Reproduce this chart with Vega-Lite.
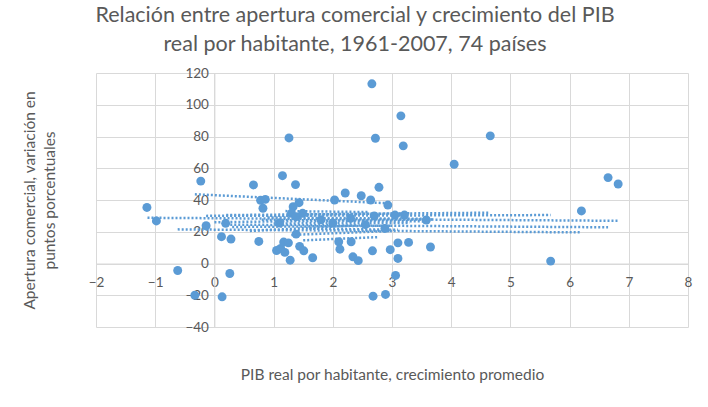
{
  "$schema": "https://vega.github.io/schema/vega-lite/v6.json",
  "autosize": {"type": "none"},
  "width": 592,
  "height": 254,
  "padding": {"left": 96, "top": 73, "right": 20, "bottom": 80},
  "background": "white",
  "config": {
    "view": {"stroke": null},
    "font": "Lato",
    "axis": {
      "grid": true,
      "gridColor": "#d9d9d9",
      "gridWidth": 1,
      "domainColor": "#d9d9d9",
      "domainWidth": 1,
      "ticks": false,
      "labelColor": "#595959",
      "labelFontSize": 13.5,
      "labelFont": "Lato",
      "labelOverlap": false,
      "labelBound": false,
      "labelFlush": false,
      "format": "d",
      "titleColor": "#595959",
      "titleFont": "Lato",
      "titleFontSize": 15.5,
      "titleFontWeight": "normal"
    }
  },
  "title": {
    "text": ["Relación entre apertura comercial y crecimiento del PIB", "real por habitante, 1961-2007, 74 países"],
    "anchor": "middle",
    "frame": "group",
    "dx": -37,
    "offset": 11,
    "fontSize": 21.5,
    "lineHeight": 29,
    "font": "Lato",
    "fontWeight": "normal",
    "color": "#595959"
  },
  "datasets": {
    "tendencias": [
      {"x1": -0.33, "y1": 43.6, "x2": 2.9, "y2": 38.0},
      {"x1": -1.13, "y1": 28.8, "x2": 6.82, "y2": 26.9},
      {"x1": -0.62, "y1": 21.5, "x2": 6.2, "y2": 19.6},
      {"x1": 0.2, "y1": 24.5, "x2": 6.65, "y2": 22.8},
      {"x1": -0.14, "y1": 30.0, "x2": 5.68, "y2": 30.5},
      {"x1": 0.2, "y1": 30.5, "x2": 4.66, "y2": 32.0},
      {"x1": 0.8, "y1": 27.5, "x2": 3.6, "y2": 26.5},
      {"x1": 1.0, "y1": 25.2, "x2": 3.3, "y2": 25.6},
      {"x1": 1.3, "y1": 30.8, "x2": 3.3, "y2": 31.6},
      {"x1": 0.3, "y1": 23.0, "x2": 3.0, "y2": 23.8},
      {"x1": 1.5, "y1": 14.6, "x2": 2.75, "y2": 16.6},
      {"x1": 1.3, "y1": 18.0, "x2": 3.0, "y2": 20.5},
      {"x1": 0.9, "y1": 29.0, "x2": 3.5, "y2": 28.2},
      {"x1": 1.6, "y1": 22.0, "x2": 3.1, "y2": 21.2},
      {"x1": 0.0, "y1": 26.0, "x2": 3.7, "y2": 27.8},
      {"x1": 1.2, "y1": 33.0, "x2": 2.6, "y2": 32.4},
      {"x1": 0.6, "y1": 20.5, "x2": 2.4, "y2": 24.0}
    ],
    "paises": [
      {"pib": -1.14, "apertura": 35.3},
      {"pib": -0.98, "apertura": 26.8},
      {"pib": -0.23, "apertura": 51.9},
      {"pib": -0.14, "apertura": 23.8},
      {"pib": -0.62, "apertura": -4.4},
      {"pib": -0.33, "apertura": -20.0},
      {"pib": 0.13, "apertura": -21.0},
      {"pib": 0.12, "apertura": 16.9},
      {"pib": 0.28, "apertura": 15.4},
      {"pib": 0.26, "apertura": -6.3},
      {"pib": 0.19, "apertura": 25.3},
      {"pib": 0.66, "apertura": 49.5},
      {"pib": 0.75, "apertura": 13.9},
      {"pib": 0.78, "apertura": 39.8},
      {"pib": 0.86, "apertura": 40.4},
      {"pib": 0.82, "apertura": 34.8},
      {"pib": 1.15, "apertura": 55.3},
      {"pib": 1.26, "apertura": 79.1},
      {"pib": 1.37, "apertura": 49.7},
      {"pib": 1.43, "apertura": 38.3},
      {"pib": 1.33, "apertura": 35.8},
      {"pib": 1.30, "apertura": 31.6},
      {"pib": 2.03, "apertura": 40.0},
      {"pib": 2.21, "apertura": 44.4},
      {"pib": 2.48, "apertura": 42.7},
      {"pib": 2.64, "apertura": 40.0},
      {"pib": 2.78, "apertura": 48.0},
      {"pib": 2.93, "apertura": 36.8},
      {"pib": 3.21, "apertura": 30.5},
      {"pib": 3.58, "apertura": 27.4},
      {"pib": 1.38, "apertura": 18.5},
      {"pib": 1.05, "apertura": 8.2},
      {"pib": 1.12, "apertura": 9.5},
      {"pib": 1.19, "apertura": 7.0},
      {"pib": 1.17, "apertura": 13.5},
      {"pib": 1.25, "apertura": 13.0},
      {"pib": 1.28, "apertura": 2.1},
      {"pib": 1.44, "apertura": 10.8},
      {"pib": 1.51, "apertura": 8.0},
      {"pib": 1.66, "apertura": 3.6},
      {"pib": 2.10, "apertura": 13.7},
      {"pib": 2.12, "apertura": 9.0},
      {"pib": 2.31, "apertura": 13.7},
      {"pib": 2.34, "apertura": 4.2},
      {"pib": 2.43, "apertura": 1.8},
      {"pib": 2.67, "apertura": 8.0},
      {"pib": 2.97, "apertura": 8.7},
      {"pib": 3.10, "apertura": 13.0},
      {"pib": 3.28, "apertura": 13.3},
      {"pib": 3.10, "apertura": 3.2},
      {"pib": 3.06, "apertura": -7.5},
      {"pib": 3.65, "apertura": 10.4},
      {"pib": 2.68, "apertura": -20.6},
      {"pib": 2.89, "apertura": -19.5},
      {"pib": 2.66, "apertura": 113.2},
      {"pib": 2.72, "apertura": 78.9},
      {"pib": 3.15, "apertura": 93.0},
      {"pib": 3.19, "apertura": 74.1},
      {"pib": 4.05, "apertura": 62.5},
      {"pib": 4.66, "apertura": 80.4},
      {"pib": 6.65, "apertura": 54.1},
      {"pib": 6.82, "apertura": 50.1},
      {"pib": 6.20, "apertura": 33.1},
      {"pib": 5.68, "apertura": 1.5},
      {"pib": 2.88, "apertura": 22.1},
      {"pib": 3.05, "apertura": 30.5},
      {"pib": 1.38, "apertura": 29.5},
      {"pib": 1.49, "apertura": 31.6},
      {"pib": 1.80, "apertura": 27.5},
      {"pib": 2.00, "apertura": 25.5},
      {"pib": 2.30, "apertura": 28.5},
      {"pib": 2.55, "apertura": 24.5},
      {"pib": 2.70, "apertura": 30.0},
      {"pib": 1.10, "apertura": 25.5}
    ]
  },
  "layer": [
    {
      "data": {"name": "tendencias"},
      "mark": {"type": "rule", "color": "#5b9bd5", "strokeWidth": 2.5, "strokeDash": [2, 2], "strokeCap": "butt"},
      "encoding": {
        "x": {
          "field": "x1",
          "type": "quantitative",
          "scale": {"domain": [-2, 8], "nice": false},
          "axis": {
            "title": "PIB real por habitante, crecimiento promedio",
            "values": [-2, -1, 0, 1, 2, 3, 4, 5, 6, 7, 8],
            "offset": -63.5,
            "labelPadding": 12,
            "titleX": 296,
            "titleY": 111,
            "titleBaseline": "middle"
          }
        },
        "x2": {"field": "x2"},
        "y": {
          "field": "y1",
          "type": "quantitative",
          "scale": {"domain": [-40, 120], "nice": false},
          "axis": {
            "title": ["Apertura comercial, variación en", "puntos porcentuales"],
            "values": [-40, -20, 0, 20, 40, 60, 80, 100, 120],
            "offset": -118.4,
            "labelPadding": 6,
            "titleX": -185,
            "titleY": 127,
            "titleAngle": -90,
            "titleAlign": "center",
            "titleBaseline": "middle",
            "titleLineHeight": 20
          }
        },
        "y2": {"field": "y2"}
      }
    },
    {
      "data": {"name": "paises"},
      "mark": {"type": "circle", "color": "#5b9bd5", "opacity": 1, "size": 80},
      "encoding": {
        "x": {
          "field": "pib",
          "type": "quantitative",
          "scale": {"domain": [-2, 8], "nice": false},
          "axis": {
            "title": "PIB real por habitante, crecimiento promedio",
            "values": [-2, -1, 0, 1, 2, 3, 4, 5, 6, 7, 8],
            "offset": -63.5,
            "labelPadding": 12,
            "titleX": 296,
            "titleY": 111,
            "titleBaseline": "middle"
          }
        },
        "y": {
          "field": "apertura",
          "type": "quantitative",
          "scale": {"domain": [-40, 120], "nice": false},
          "axis": {
            "title": ["Apertura comercial, variación en", "puntos porcentuales"],
            "values": [-40, -20, 0, 20, 40, 60, 80, 100, 120],
            "offset": -118.4,
            "labelPadding": 6,
            "titleX": -185,
            "titleY": 127,
            "titleAngle": -90,
            "titleAlign": "center",
            "titleBaseline": "middle",
            "titleLineHeight": 20
          }
        }
      }
    }
  ]
}
